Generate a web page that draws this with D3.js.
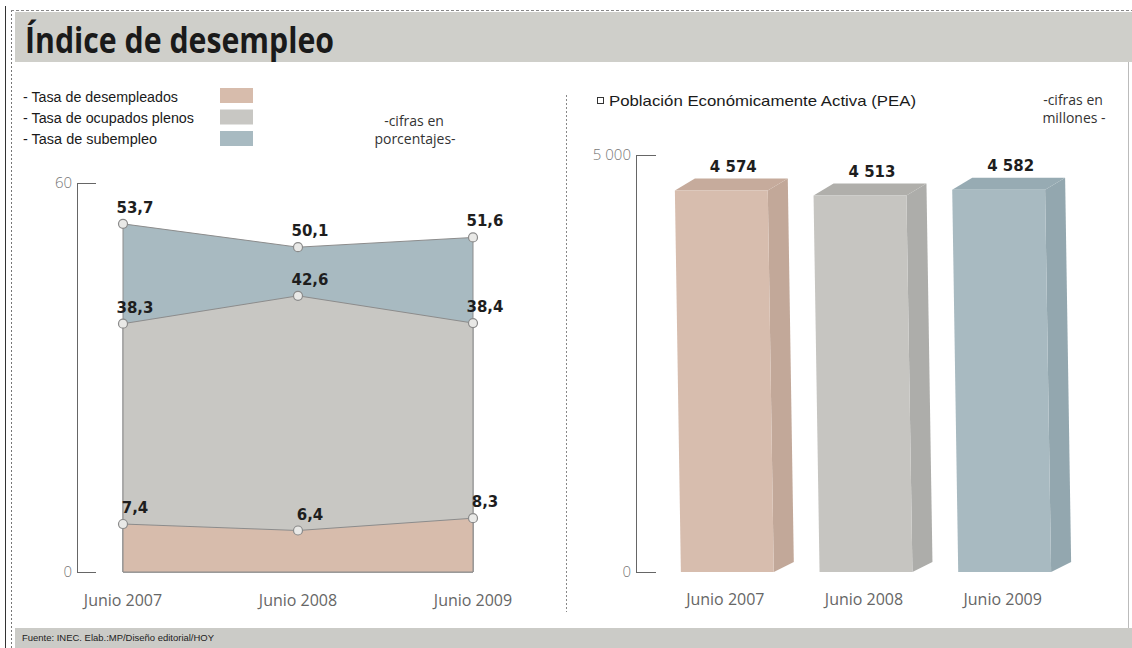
<!DOCTYPE html>
<html><head><meta charset="utf-8">
<script src="https://cdn.jsdelivr.net/npm/d3@7"></script>
<style>
html,body{margin:0;padding:0;background:#fff;}
svg{display:block;}
</style></head>
<body>
<svg id="chart" width="1132" height="648"></svg>
<script>
// ---- data ----
const title = "Índice de desempleo";
const periods = ["Junio 2007", "Junio 2008", "Junio 2009"];
const seriesNames = ["- Tasa de desempleados", "- Tasa de ocupados plenos", "- Tasa de subempleo"];
const desempleados = [7.4, 6.4, 8.3];
const ocupadosPlenos = [38.3, 42.6, 38.4];
const subempleo = [53.7, 50.1, 51.6];
const pctTicks = [0, 60];
const pea = [4574, 4513, 4582];
const peaTicks = [0, 5000];
const peaLegend = "Población Económicamente Activa (PEA)";
const source = "Fuente: INEC. Elab.:MP/Diseño editorial/HOY";

// ---- styles ----
const cPink = "#d7bcac", cGray = "#c8c7c3", cBlue = "#a8bac1";
const barFront = ["#d7bdae", "#c6c5c1", "#a8bac1"];
const barSide  = ["#c2a899", "#adadaa", "#93a7af"];
const barTop   = ["#c6ab9c", "#b0afab", "#97abb3"];

const loc = d3.formatLocale({decimal: ",", thousands: " ", grouping: [3], currency: ["", ""]});
const fmt1 = loc.format(".1f");
const fmtInt = loc.format(",d");

const svg = d3.select("#chart");

// ---- frame ----
svg.append("line").attr("x1", 5.5).attr("x2", 5.5).attr("y1", 6).attr("y2", 648).attr("stroke", "#333").attr("stroke-width", 1);
svg.append("line").attr("x1", 11.5).attr("x2", 11.5).attr("y1", 10).attr("y2", 648).attr("stroke", "#777").attr("stroke-dasharray", "2,2");
svg.append("line").attr("x1", 11).attr("x2", 1132).attr("y1", 10.5).attr("y2", 10.5).attr("stroke", "#888").attr("stroke-dasharray", "3,2");
svg.append("rect").attr("x", 15).attr("y", 12).attr("width", 1117).attr("height", 50).attr("fill", "#cfcfca");
svg.append("text").attr("x", 25).attr("y", 53).text(title)
  .attr("font-family", "'Open Sans', 'Noto Sans', sans-serif").attr("font-weight", 700)
  .attr("font-size", 35).attr("fill", "#1a1a1a")
  .attr("textLength", 309).attr("lengthAdjust", "spacingAndGlyphs");
svg.append("rect").attr("x", 15).attr("y", 628).attr("width", 1117).attr("height", 20).attr("fill", "#cbcbc7");
svg.append("text").attr("x", 22).attr("y", 641).text(source)
  .attr("font-family", "'Liberation Sans Narrow', 'Liberation Sans', sans-serif")
  .attr("font-size", 9).attr("fill", "#222")
  .attr("textLength", 192).attr("lengthAdjust", "spacingAndGlyphs");
svg.append("line").attr("x1", 566.5).attr("x2", 566.5).attr("y1", 95).attr("y2", 612)
  .attr("stroke", "#888").attr("stroke-dasharray", "2,2");
svg.append("line").attr("x1", 1128.5).attr("x2", 1128.5).attr("y1", 62).attr("y2", 628).attr("stroke", "#bbb");

// ---- left legend ----
const legendFont = "'Liberation Sans Narrow', 'Liberation Sans', sans-serif";
const legendLens = [155, 171, 134];
const legendCols = [cPink, cGray, cBlue];
seriesNames.forEach((n, i) => {
  svg.append("text").attr("x", 23).attr("y", 102 + i * 21).text(n)
    .attr("font-family", legendFont).attr("font-size", 14).attr("fill", "#1a1a1a")
    .attr("textLength", legendLens[i]).attr("lengthAdjust", "spacingAndGlyphs");
  svg.append("rect").attr("x", 220).attr("y", 88 + i * 21.5).attr("width", 33).attr("height", 15).attr("fill", legendCols[i]);
});
const unitFont = "'Open Sans', 'Noto Sans', sans-serif";
svg.append("text").attr("x", 414).attr("y", 126).attr("text-anchor", "middle").text("-cifras en")
  .attr("font-family", unitFont).attr("font-size", 14).attr("fill", "#333");
svg.append("text").attr("x", 415).attr("y", 144).attr("text-anchor", "middle").text("porcentajes-")
  .attr("font-family", unitFont).attr("font-size", 14).attr("fill", "#333");

// ---- left chart ----
const xL = d3.scalePoint().domain(periods).range([123, 473]);
const yL = d3.scaleLinear().domain([0, 60]).range([572, 183]);

const gL = svg.append("g");
const layers = [
  {vals: subempleo, fill: cBlue},
  {vals: ocupadosPlenos, fill: cGray},
  {vals: desempleados, fill: cPink}
];
const area = d3.area().x((d, i) => xL(periods[i])).y0(yL(0)).y1(d => yL(d));
layers.forEach(l => {
  gL.append("path").datum(l.vals).attr("d", area).attr("fill", l.fill)
    .attr("stroke", "#8c8c8c").attr("stroke-width", 1);
});
layers.forEach(l => {
  gL.selectAll(null).data(l.vals).enter().append("circle")
    .attr("cx", (d, i) => xL(periods[i])).attr("cy", d => yL(d)).attr("r", 4.5)
    .attr("fill", "#e9e9e7").attr("stroke", "#8a8a8a").attr("stroke-width", 1.2);
  gL.selectAll(null).data(l.vals).enter().append("text")
    .attr("x", (d, i) => xL(periods[i]) + 12).attr("y", d => yL(d) - 11)
    .attr("text-anchor", "middle").text(d => fmt1(d))
    .attr("font-family", "'DejaVu Sans', sans-serif").attr("font-weight", 700)
    .attr("font-size", 15).attr("fill", "#1e1e1e");
});

const axL = d3.axisLeft(yL).tickValues(pctTicks).tickSizeInner(-19).tickSizeOuter(0).tickPadding(5);
const gAxL = svg.append("g").attr("transform", "translate(77,0)").call(axL);
gAxL.selectAll("path, line").attr("stroke", "#666");
gAxL.selectAll("text").attr("font-family", unitFont).attr("font-weight", 300)
  .attr("font-size", 15).attr("fill", "#777");

gL.selectAll(null).data(periods).enter().append("text")
  .attr("x", d => xL(d)).attr("y", 606).attr("text-anchor", "middle").text(d => d)
  .attr("font-family", unitFont).attr("font-size", 16).attr("fill", "#666");

// ---- right legend ----
svg.append("rect").attr("x", 597.5).attr("y", 97.5).attr("width", 6).attr("height", 6)
  .attr("fill", "none").attr("stroke", "#333").attr("stroke-width", 1);
svg.append("text").attr("x", 609).attr("y", 106).text(peaLegend)
  .attr("font-family", legendFont).attr("font-size", 15).attr("fill", "#1a1a1a")
  .attr("textLength", 307).attr("lengthAdjust", "spacingAndGlyphs");
svg.append("text").attr("x", 1073).attr("y", 105).attr("text-anchor", "middle").text("-cifras en")
  .attr("font-family", unitFont).attr("font-size", 14).attr("fill", "#333");
svg.append("text").attr("x", 1074).attr("y", 123).attr("text-anchor", "middle").text("millones -")
  .attr("font-family", unitFont).attr("font-size", 14).attr("fill", "#333");

// ---- right chart ----
const yR = d3.scaleLinear().domain([0, 5000]).range([572, 155]);
const xR = d3.scaleBand().domain(periods).range([652, 1068]).paddingInner(0.33).paddingOuter(0.165);
const bw = xR.bandwidth();
const dx = 20, dy = 12, lean = 6;
const gR = svg.append("g");
pea.forEach((v, i) => {
  const x0 = xR(periods[i]), yt = yR(v), yb = yR(0);
  const pts = a => a.map(p => p.join(",")).join(" ");
  gR.append("polygon").attr("points", pts([[x0 + bw, yt], [x0 + bw + dx, yt - dy], [x0 + bw + dx + lean, yb - 10], [x0 + bw + lean, yb]]))
    .attr("fill", barSide[i]);
  gR.append("polygon").attr("points", pts([[x0, yt], [x0 + dx, yt - dy], [x0 + bw + dx, yt - dy], [x0 + bw, yt]]))
    .attr("fill", barTop[i]);
  gR.append("polygon").attr("points", pts([[x0, yt], [x0 + bw, yt], [x0 + bw + lean, yb], [x0 + lean, yb]]))
    .attr("fill", barFront[i]);
  gR.append("text").attr("x", x0 + bw / 2 + dx / 2 + 2).attr("y", yt - dy - 7)
    .attr("text-anchor", "middle").text(fmtInt(v))
    .attr("font-family", "'DejaVu Sans', sans-serif").attr("font-weight", 700)
    .attr("font-size", 15).attr("fill", "#1e1e1e");
  gR.append("text").attr("x", x0 + bw / 2 + 4).attr("y", 605).attr("text-anchor", "middle").text(periods[i])
    .attr("font-family", unitFont).attr("font-size", 16).attr("fill", "#666");
});

const axR = d3.axisLeft(yR).tickValues(peaTicks).tickSizeInner(-20).tickSizeOuter(0).tickPadding(5).tickFormat(fmtInt);
const gAxR = svg.append("g").attr("transform", "translate(636,0)").call(axR);
gAxR.selectAll("path, line").attr("stroke", "#666");
gAxR.selectAll("text").attr("font-family", unitFont).attr("font-weight", 300)
  .attr("font-size", 15).attr("fill", "#777");
</script>
</body></html>
